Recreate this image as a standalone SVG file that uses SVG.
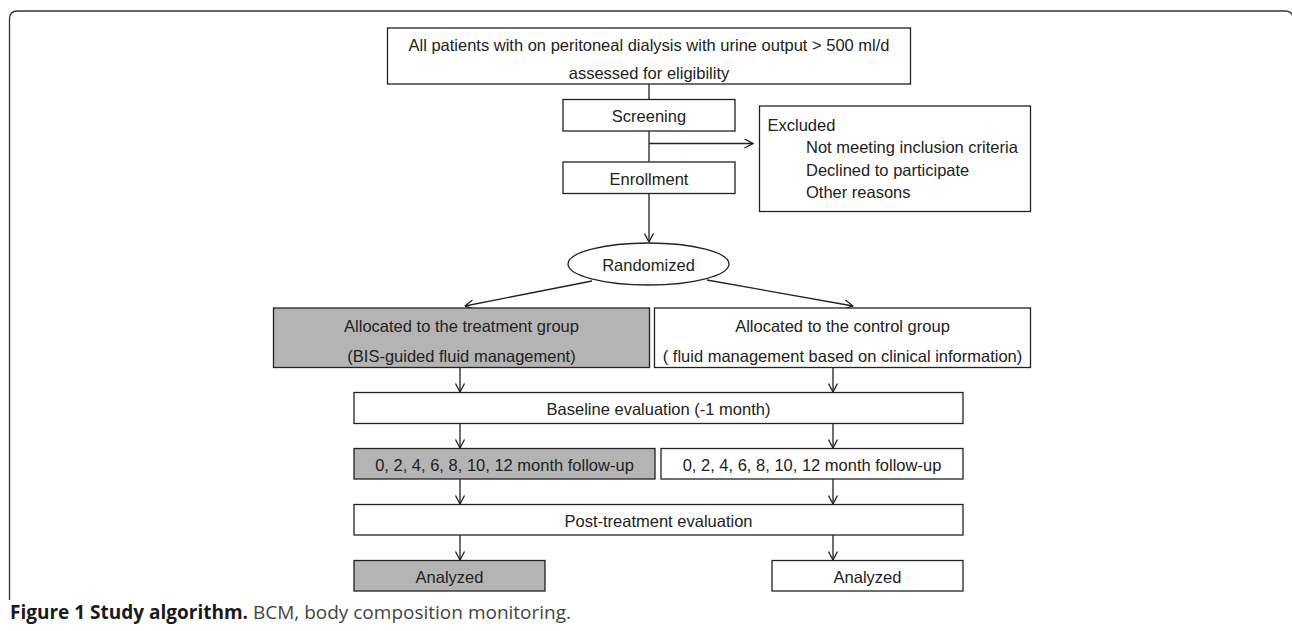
<svg xmlns="http://www.w3.org/2000/svg" width="1292" height="631" viewBox="0 0 1292 631">
<style>
.box{fill:#fff;stroke:#222;stroke-width:1.3}
.gray{fill:#b4b4b5;stroke:#222;stroke-width:1.3}
.t{font-family:"Liberation Sans",Arial,sans-serif;font-size:16.5px;fill:#222}
.c{text-anchor:middle}
.ln{fill:none;stroke:#222;stroke-width:1.3}
.cap{font-family:"Open Sans","Noto Sans",sans-serif;font-size:19px}
</style>
<defs>
<marker id="ah" viewBox="0 0 10 10" refX="9.5" refY="5" markerWidth="10" markerHeight="10" markerUnits="userSpaceOnUse" orient="auto">
<path d="M1,0.5 L9.5,5 L1,9.5" fill="none" stroke="#222" stroke-width="1.3"/>
</marker>
</defs>
<rect width="1292" height="631" fill="#fff"/>
<path d="M9.5 600 V19 Q9.5 11 17.5 11 H1285 Q1293 11 1293 19 V631" fill="none" stroke="#333" stroke-width="1.3"/>
<g id="connectors">
<line class="ln" x1="649" y1="84" x2="649" y2="99"/>
<line class="ln" x1="649" y1="131" x2="649" y2="162"/>
<line class="ln" x1="649" y1="143.5" x2="753" y2="143.5" marker-end="url(#ah)"/>
<line class="ln" x1="649" y1="193" x2="649" y2="242" marker-end="url(#ah)"/>
<line class="ln" x1="592" y1="281" x2="465" y2="306" marker-end="url(#ah)"/>
<line class="ln" x1="707" y1="280" x2="853" y2="306" marker-end="url(#ah)"/>
<line class="ln" x1="460" y1="368" x2="460" y2="392" marker-end="url(#ah)"/>
<line class="ln" x1="833" y1="368" x2="833" y2="392" marker-end="url(#ah)"/>
<line class="ln" x1="460" y1="423.5" x2="460" y2="448" marker-end="url(#ah)"/>
<line class="ln" x1="833" y1="423.5" x2="833" y2="448" marker-end="url(#ah)"/>
<line class="ln" x1="460" y1="479" x2="460" y2="504" marker-end="url(#ah)"/>
<line class="ln" x1="833" y1="479" x2="833" y2="504" marker-end="url(#ah)"/>
<line class="ln" x1="460" y1="535" x2="460" y2="560" marker-end="url(#ah)"/>
<line class="ln" x1="833" y1="535" x2="833" y2="560" marker-end="url(#ah)"/>
</g>
<g id="assessed">
<rect class="box" x="387.5" y="28" width="523" height="56"/>
<text class="t c" x="649" y="50.5">All patients with on peritoneal dialysis with urine output &gt; 500 ml/d</text>
<text class="t c" x="649" y="78.5">assessed for eligibility</text>
</g>
<g id="screening">
<rect class="box" x="563" y="99.5" width="172" height="31.5"/>
<text class="t c" x="649" y="122">Screening</text>
</g>
<g id="excluded">
<rect class="box" x="759.5" y="106" width="271" height="105.5"/>
<text class="t" x="767.5" y="131">Excluded</text>
<text class="t" x="806" y="153">Not meeting inclusion criteria</text>
<text class="t" x="806" y="175.5">Declined to participate</text>
<text class="t" x="806" y="198">Other reasons</text>
</g>
<g id="enrollment">
<rect class="box" x="563" y="162" width="172" height="31.5"/>
<text class="t c" x="649" y="185">Enrollment</text>
</g>
<g id="randomized">
<ellipse class="box" cx="648.5" cy="264" rx="80.5" ry="21"/>
<text class="t c" x="648.5" y="270.5">Randomized</text>
</g>
<g id="treatment">
<rect class="gray" x="273.5" y="308" width="376" height="59.5"/>
<text class="t c" x="461.5" y="331.5">Allocated to the treatment group</text>
<text class="t c" x="461.5" y="361.5">(BIS-guided fluid management)</text>
</g>
<g id="control">
<rect class="box" x="654.5" y="308" width="376" height="59.5"/>
<text class="t c" x="842.5" y="331.5">Allocated to the control group</text>
<text class="t c" x="842.5" y="361.5">( fluid management based on clinical information)</text>
</g>
<g id="baseline">
<rect class="box" x="354" y="392.5" width="609" height="31"/>
<text class="t c" x="658.5" y="415">Baseline evaluation (-1 month)</text>
</g>
<g id="followup-treatment">
<rect class="gray" x="354" y="448.5" width="301" height="30.5"/>
<text class="t c" x="504.5" y="471">0, 2, 4, 6, 8, 10, 12 month follow-up</text>
</g>
<g id="followup-control">
<rect class="box" x="661" y="448.5" width="302" height="30.5"/>
<text class="t c" x="812" y="471">0, 2, 4, 6, 8, 10, 12 month follow-up</text>
</g>
<g id="post">
<rect class="box" x="354" y="504.5" width="609" height="30.5"/>
<text class="t c" x="658.5" y="527">Post-treatment evaluation</text>
</g>
<g id="analyzed-treatment">
<rect class="gray" x="354" y="560.5" width="191" height="30.5"/>
<text class="t c" x="449.5" y="583">Analyzed</text>
</g>
<g id="analyzed-control">
<rect class="box" x="772" y="560.5" width="191" height="30.5"/>
<text class="t c" x="867.5" y="583">Analyzed</text>
</g>
<text class="cap" x="10" y="619"><tspan font-weight="bold" fill="#1a1a1a">Figure 1 Study algorithm.</tspan><tspan fill="#444"> BCM, body composition monitoring.</tspan></text>
</svg>
